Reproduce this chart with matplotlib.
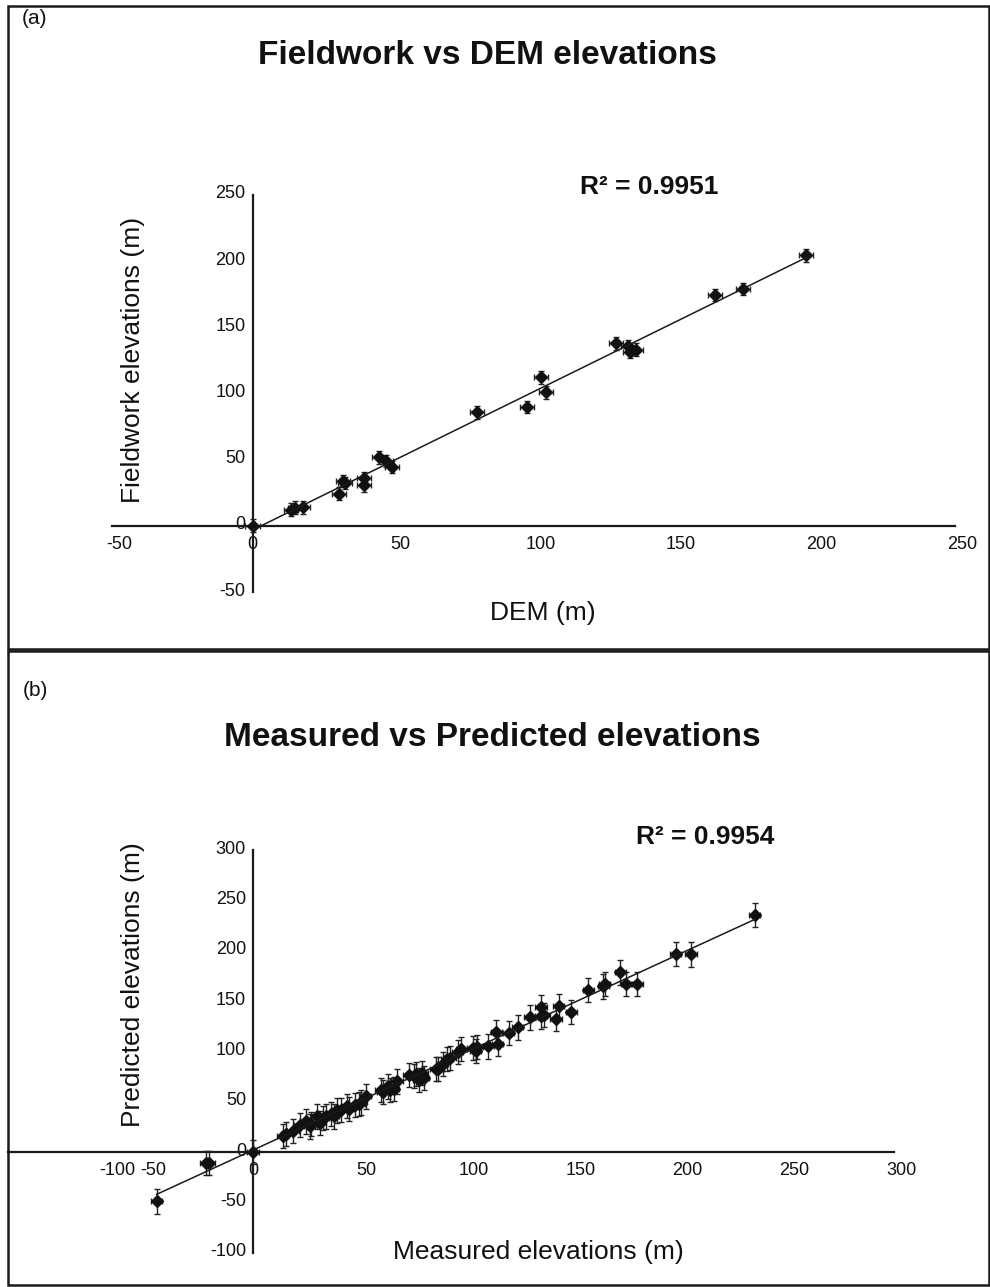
import numpy as np
import matplotlib
matplotlib.use("Agg")
import matplotlib.pyplot as plt
from matplotlib.patches import Rectangle
from matplotlib.transforms import ScaledTranslation

plt.rcParams['font.family'] = ['Liberation Sans', 'DejaVu Sans']
plt.rcParams['axes.unicode_minus'] = False

# ---------------- data: panel (a) ----------------
dem_m = [0, 13.8, 15.1, 17.9, 30.8, 32.1, 33.0, 39.7, 39.7, 44.9, 47.6, 49.6,
         79.8, 97.6, 102.6, 104.5, 129.5, 133.5, 134.5, 136.4, 164.6, 174.6, 197.0]
field_m = [0, 12.2, 13.8, 14.1, 24.4, 33.9, 32.4, 35.9, 30.7, 51.8, 49.0, 44.5,
           85.7, 89.9, 112.1, 101.0, 137.9, 135.9, 131.4, 133.1, 174.4, 178.9, 204.5]
a_xerr = 2.5
a_yerr = 4.8
a_ticks = [-50, 0, 50, 100, 150, 200, 250]
a_r2 = "R² = 0.9951"

# ---------------- data: panel (b) ----------------
measured_m = [-45.1, -22.0, -20.4, 0.0,
              14.0, 15.6, 18.7, 22.0, 24.8, 26.5, 27.3, 29.9, 31.5, 32.9, 34.0,
              36.5, 37.7, 39.4, 41.0, 44.1, 44.9, 47.7, 49.6, 50.7, 52.7, 59.9,
              60.8, 63.3, 64.1, 65.8, 67.4, 73.0, 75.3, 76.3, 77.5, 79.2, 80.0,
              85.5, 86.7, 88.8, 90.8, 92.2, 95.9, 97.5, 102.9, 104.2, 105.0,
              110.1, 113.9, 114.6, 119.6, 123.9, 129.6, 134.8, 134.8, 136.3,
              141.8, 143.0, 149.0, 156.9, 163.9, 164.7, 171.9, 174.7, 179.7,
              197.8, 205.0, 234.9]
predicted_m = [-48.8, -11.0, -11.0, 0.0,
               16.4, 18.3, 20.7, 27.3, 30.6, 25.6, 27.9, 35.5, 28.9, 33.9, 35.5,
               38.2, 35.5, 41.5, 42.2, 46.1, 42.8, 47.1, 47.8, 49.4, 55.4, 62.0,
               59.4, 65.3, 62.0, 63.0, 70.3, 76.9, 75.9, 77.6, 71.9, 78.6, 73.6,
               82.5, 82.5, 87.8, 92.4, 93.4, 99.4, 102.7, 103.4, 100.1, 104.4,
               105.0, 119.2, 107.3, 118.3, 123.9, 133.8, 143.7, 134.8, 136.5,
               132.2, 144.7, 139.4, 160.9, 164.6, 166.9, 178.5, 167.2, 167.2,
               196.7, 196.3, 235.7]
b_xerr = 2.6
b_yerr = 12.0
b_ticks = [-100, -50, 0, 50, 100, 150, 200, 250, 300]
b_r2 = "R² = 0.9954"

# ---------------- layout ----------------
W, H = 990, 1287
fig = plt.figure(figsize=(W / 100, H / 100), dpi=100)
fig.patch.set_facecolor('white')


def fx(px):
    return px / W


def fy(py):
    return 1 - py / H


def axes_px(left, right, top, bottom):
    return fig.add_axes([fx(left), fy(bottom), (right - left) / W, (bottom - top) / H])


# panel frames
for (top, bottom) in [(6, 649), (651, 1285)]:
    fig.add_artist(Rectangle((fx(8), fy(bottom)), fx(981), (bottom - top) / H,
                             transform=fig.transFigure, fill=False,
                             edgecolor='#1a1a1a', linewidth=1.8))

TXT = '#111111'


def style_axes(ax, ticks, xlim, ylim, xshift, special_shift=None):
    for s in ['top', 'right']:
        ax.spines[s].set_visible(False)
    ax.spines['left'].set_position(('data', 0))
    ax.spines['bottom'].set_position(('data', 0))
    for s in ['left', 'bottom']:
        ax.spines[s].set_linewidth(1.6)
        ax.spines[s].set_color('#1a1a1a')
    ax.set_xticks(ticks)
    ax.set_yticks([t for t in ticks if ylim[0] <= t <= ylim[1]])
    ax.set_xlim(*xlim)
    ax.set_ylim(*ylim)
    ax.tick_params(axis='both', length=0, labelsize=13, labelcolor=TXT)
    ax.tick_params(axis='x', pad=7)
    ax.tick_params(axis='y', pad=5)
    ax.set_facecolor('none')
    # Excel-like label offsets
    for t, lab in zip(ax.get_xticks(), ax.get_xticklabels()):
        dx = 0.0 if t == 0 else xshift
        if special_shift and t in special_shift:
            dx = special_shift[t]
        lab.set_transform(lab.get_transform() + ScaledTranslation(dx / 100, 0, fig.dpi_scale_trans))
        lab.set_clip_on(False)
    for lab in ax.get_yticklabels():
        lab.set_transform(lab.get_transform() + ScaledTranslation(0, 3 / 100, fig.dpi_scale_trans))


def draw_series(ax, x, y, xerr, yerr):
    x = np.asarray(x)
    y = np.asarray(y)
    ax.errorbar(x, y, xerr=xerr, yerr=yerr, fmt='D', color='#111111', ms=6,
                ecolor='#222222', elinewidth=1.0, capsize=2.5, capthick=1.0,
                zorder=3, clip_on=False)
    k, b = np.polyfit(x, y, 1)
    xs = np.array([x.min(), x.max()])
    ax.plot(xs, k * xs + b, color='#1a1a1a', lw=1.1, zorder=4, clip_on=False)


# ---------------- panel (a) ----------------
axa = axes_px(112, 955, 195, 592)
draw_series(axa, dem_m, field_m, a_xerr, a_yerr)
style_axes(axa, a_ticks, (-50, 250), (-50, 250), xshift=7)

fig.text(fx(22), fy(18), "(a)", fontsize=15, color=TXT, ha='left', va='center')
fig.text(fx(487), fy(56), "Fieldwork vs DEM elevations", fontsize=24,
         fontweight='bold', color=TXT, ha='center', va='center')
fig.text(fx(649), fy(187), a_r2, fontsize=19, fontweight='bold', color=TXT,
         ha='center', va='center')
fig.text(fx(543), fy(613), "DEM (m)", fontsize=19, color=TXT, ha='center', va='center')
fig.text(fx(133), fy(360), "Fieldwork elevations (m)", fontsize=19, color=TXT,
         ha='center', va='center', rotation=90)

# ---------------- panel (b) ----------------
x0_b, scale_b = 253, (894 - 253) / 300
axb = axes_px(8, 894, 850, 1253)
draw_series(axb, measured_m, predicted_m, b_xerr, b_yerr)
style_axes(axb, b_ticks, ((8 - x0_b) / scale_b, 300), (-100, 300), xshift=7,
           special_shift={-100: 78})

fig.text(fx(23), fy(691), "(b)", fontsize=15, color=TXT, ha='left', va='center')
fig.text(fx(492), fy(737), "Measured vs Predicted elevations", fontsize=24,
         fontweight='bold', color=TXT, ha='center', va='center')
fig.text(fx(705), fy(837), b_r2, fontsize=19, fontweight='bold', color=TXT,
         ha='center', va='center')
fig.text(fx(538), fy(1252), "Measured elevations (m)", fontsize=19, color=TXT,
         ha='center', va='center')
fig.text(fx(133), fy(985), "Predicted elevations (m)", fontsize=19, color=TXT,
         ha='center', va='center', rotation=90)

fig.savefig("out.png", dpi=100, facecolor='white')
